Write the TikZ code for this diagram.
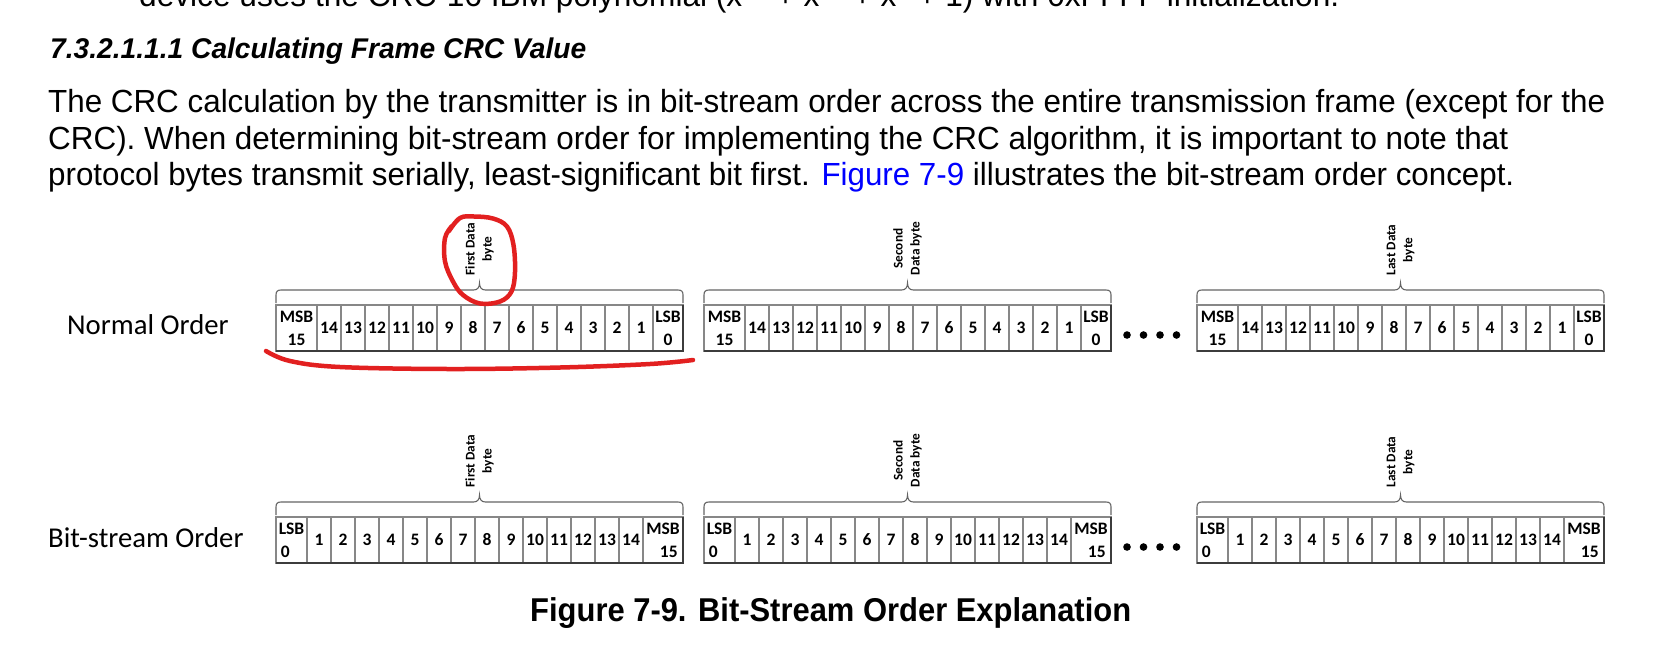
\documentclass[tikz,border=0pt]{standalone}
\usepackage{fontspec}
\setmainfont{Liberation Sans}
\newfontfamily\calib{Carlito}
\usepackage{graphicx}
\definecolor{cellgray}{RGB}{135,135,135}
\definecolor{edgedarkc}{RGB}{60,60,60}
\definecolor{bracegray}{RGB}{100,100,100}
\definecolor{markred}{RGB}{226,32,32}
\definecolor{linkblue}{RGB}{0,0,255}
\newcommand\cellfont{\calib\bfseries\fontsize{17.5}{23}\selectfont}
\newcommand\lblfont{\calib\bfseries\fontsize{13.3}{17}\selectfont}
\newcommand\rowfont{\calib\fontsize{28.7}{34}\selectfont}
\tikzset{
  cell/.style={draw=cellgray, line width=1.1pt, minimum height=46pt, inner sep=0pt, outer sep=0pt, anchor=north west, font=\cellfont, align=center},
  edgedark/.style={draw=edgedarkc, line width=1.3pt},
  bracepath/.style={draw=bracegray, line width=1.1pt},
  lbl/.style={font=\lblfont, align=center, inner sep=0pt, rotate=90, anchor=west},
  rowlbl/.style={font=\rowfont, inner sep=0pt, anchor=west},
  redmark/.style={draw=markred, line width=4.5pt, line cap=round, line join=round},
  bitdot/.style={fill=black},
  txt/.style={inner sep=0pt, anchor=base west},
}
\newcommand\normrow[3]{%
  \node[cell, minimum width=41pt] (#1m) at (#2,#3) {MSB\\15};
  \foreach \k in {14,...,1}{
    \node[cell, minimum width=24pt] (#1c\k) at ({#2+41+24*(14-\k)},#3) {\k};
  }
  \node[cell, minimum width=30pt] (#1l) at ({#2+377},#3) {LSB\\0};
  \draw[edgedark] (#1m.south west) -- (#1l.south east) -- (#1l.north east);
}
\newcommand\bitrow[3]{%
  \node[cell, minimum width=31pt, align=left] (#1l) at (#2,#3) {LSB\\\hspace*{2pt}0};
  \foreach \k in {1,...,14}{
    \node[cell, minimum width=24pt] (#1c\k) at ({#2+31+24*(\k-1)},#3) {\k};
  }
  \node[cell, minimum width=40pt, align=right] (#1m) at ({#2+367},#3) {MSB\\15\hspace*{2pt}};
  \draw[edgedark] (#1l.south west) -- (#1m.south east) -- (#1m.north east);
}
\newcommand\bytebrace[3]{%
  \pgfmathsetmacro\xc{(#1+#2)/2}
  \draw[bracepath] (#1,#3+13) -- (#1,#3+5) .. controls (#1,#3+1.5) and (#1+1.5,#3) .. (#1+5,#3)
    -- (\xc-6,#3) .. controls (\xc-2,#3) and (\xc,#3-2.5) .. (\xc,#3-7)
    .. controls (\xc,#3-2.5) and (\xc+2,#3) .. (\xc+6,#3)
    -- (#2-5,#3) .. controls (#2-1.5,#3) and (#2,#3+1.5) .. (#2,#3+5) -- (#2,#3+13);
}
\begin{document}
\begin{tikzpicture}[x=1pt,y=-1pt]
\useasboundingbox (0,0) rectangle (1669,646);
% document text
\node[txt] (topline) at (139,6) {\resizebox{1200pt}{\height}{\fontsize{32}{38}\selectfont device uses the CRC-16 IBM polynomial (x\textsuperscript{16} + x\textsuperscript{15} + x\textsuperscript{2} + 1) with 0xFFFF initialization.}};
\node[txt] (heading) at (50,58) {\resizebox{536pt}{\height}{\bfseries\itshape\fontsize{28.5}{34}\selectfont 7.3.2.1.1.1 Calculating Frame CRC Value}};
\node[txt] (par1) at (48,112) {\resizebox{1557pt}{\height}{\fontsize{32}{38}\selectfont The CRC calculation by the transmitter is in bit-stream order across the entire transmission frame (except for the}};
\node[txt] (par2) at (48,149) {\resizebox{1460pt}{\height}{\fontsize{32}{38}\selectfont CRC). When determining bit-stream order for implementing the CRC algorithm, it is important to note that}};
\node[txt] (par3) at (48,185) {\resizebox{1466pt}{\height}{\fontsize{32}{38}\selectfont protocol bytes transmit serially, least-significant bit first. \textcolor{linkblue}{Figure 7-9} illustrates the bit-stream order concept.}};
% row labels
\node[rowlbl] (normal) at (67,325) {Normal Order};
\node[rowlbl] (bitstream) at (48,538) {Bit-stream Order};
% normal order row
\normrow{na}{276}{305}
\normrow{nb}{704}{305}
\normrow{nc}{1197}{305}
\bytebrace{276}{683}{290}
\bytebrace{704}{1111}{290}
\bytebrace{1197}{1604}{290}
\node[lbl] (lna) at (479.5,275.5) {First Data\\byte};
\node[lbl] (lnb) at (907.5,275.5) {Second\\Data byte};
\node[lbl] (lnc) at (1400.5,275.5) {Last Data\\byte};
\foreach \dx in {1127,1143.5,1160,1176.5}{\fill[bitdot] (\dx,335) circle (3.8);}
% bit-stream order row
\bitrow{ba}{276}{517}
\bitrow{bb}{704}{517}
\bitrow{bc}{1197}{517}
\bytebrace{276}{683}{502}
\bytebrace{704}{1111}{502}
\bytebrace{1197}{1604}{502}
\node[lbl] (lba) at (479.5,487.5) {First Data\\byte};
\node[lbl] (lbb) at (907.5,487.5) {Second\\Data byte};
\node[lbl] (lbc) at (1400.5,487.5) {Last Data\\byte};
\foreach \dx in {1127,1143.5,1160,1176.5}{\fill[bitdot] (\dx,547) circle (3.8);}
% caption
\node[txt] (caption) at (530,621) {\resizebox{601pt}{\height}{\bfseries\fontsize{33}{40}\selectfont Figure 7-9. Bit-Stream Order Explanation}};
% red annotations
\draw[redmark] plot[smooth, tension=0.6] coordinates {(449,231) (460,218) (474,216.5) (493,218.5) (507,226.5) (513.5,245) (515,272) (511.5,291.5) (500,301.5) (480,303.5) (463,295) (453,281.5) (445,261.5) (445,238) (452,226)};
\draw[redmark] plot[smooth, tension=0.6] coordinates {(266,351) (290,361) (340,367) (450,369) (560,367.5) (650,364) (693,360)};
\end{tikzpicture}
\end{document}
